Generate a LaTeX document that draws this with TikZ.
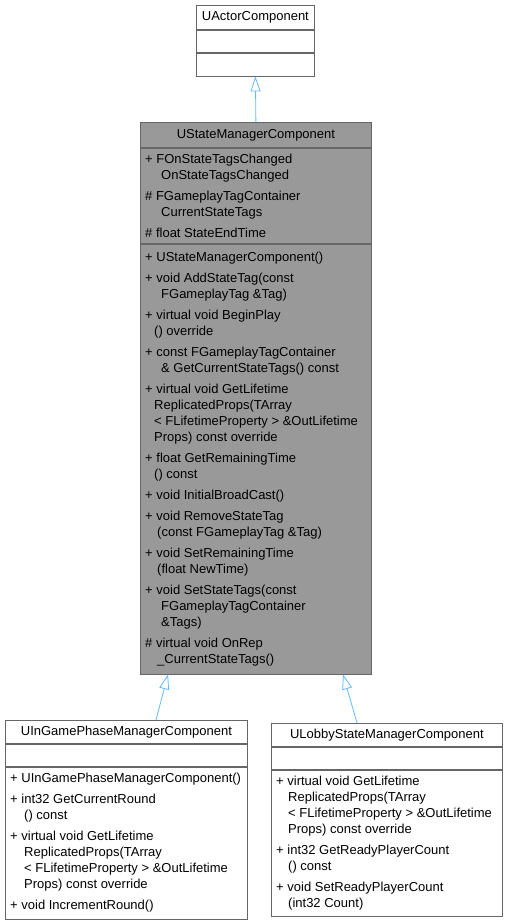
\documentclass[tikz,border=0pt]{standalone}
\usepackage{fontspec}
\setmainfont{Liberation Sans}
\usetikzlibrary{positioning,arrows.meta}
\definecolor{boxline}{HTML}{666666}
\definecolor{boxfill}{HTML}{999999}
\definecolor{inheritline}{HTML}{63B8FF}
\tikzset{
  part/.style n args={2}{draw=boxline, line width=0.8pt, fill=white, inner sep=0pt,
    minimum width=#1, minimum height=#2},
  current/.style={fill=boxfill},
  members/.style={anchor=west, inner sep=0pt, align=left},
  inherit/.style={draw=inheritline, line width=0.8pt,
    -{Triangle[open, length=15pt, width=10pt]}},
}
\begin{document}
\begin{tikzpicture}[x=1pt, y=-1pt, font=\fontsize{13}{16}\selectfont]
  \useasboundingbox (0,0) rectangle (507,923);
  % Top: base class
  \node[part={118pt}{24pt}, anchor=north west] (actor) at (196,5) {UActorComponent};
  \node[part={118pt}{22pt}, below=0pt of actor] (actor-a) {};
  \node[part={118pt}{23pt}, below=0pt of actor-a] (actor-m) {};
  % Middle: the state manager itself
  \node[part={231pt}{25pt}, current, anchor=north west] (sm) at (140,122) {UStateManagerComponent};
  \node[part={231pt}{95pt}, current, below=0pt of sm] (sm-a) {};
  \node[part={231pt}{430pt}, current, below=0pt of sm-a] (sm-m) {};
  \node[members] (sm-a-txt) at ([xshift=5pt]sm-a.west) {%
    + FOnStateTagsChanged\\
    \hspace*{16pt}OnStateTagsChanged\\[5pt]
    \# FGameplayTagContainer\\
    \hspace*{16pt}CurrentStateTags\\[5pt]
    \# float StateEndTime};
  \node[members] (sm-m-txt) at ([xshift=5pt]sm-m.west) {%
    + UStateManagerComponent()\\[5pt]
    + void AddStateTag(const\\
    \hspace*{16pt}FGameplayTag \&Tag)\\[5pt]
    + virtual void BeginPlay\\
    \hspace*{9pt}() override\\[5pt]
    + const FGameplayTagContainer\\
    \hspace*{16pt}\& GetCurrentStateTags() const\\[5pt]
    + virtual void GetLifetime\\
    \hspace*{9pt}ReplicatedProps(TArray\\
    \hspace*{9pt}< FLifetimeProperty > \&OutLifetime\\
    \hspace*{9pt}Props) const override\\[5pt]
    + float GetRemainingTime\\
    \hspace*{9pt}() const\\[5pt]
    + void InitialBroadCast()\\[5pt]
    + void RemoveStateTag\\
    \hspace*{12pt}(const FGameplayTag \&Tag)\\[5pt]
    + void SetRemainingTime\\
    \hspace*{12pt}(float NewTime)\\[5pt]
    + void SetStateTags(const\\
    \hspace*{16pt}FGameplayTagContainer\\
    \hspace*{16pt}\&Tags)\\[5pt]
    \# virtual void OnRep\\
    \hspace*{12pt}\_CurrentStateTags()};
  % Bottom left: in-game phase manager
  \node[part={242pt}{23pt}, anchor=north west] (gp) at (5,720) {UInGamePhaseManagerComponent};
  \node[part={242pt}{22pt}, below=0pt of gp] (gp-a) {};
  \node[part={242pt}{152pt}, below=0pt of gp-a] (gp-m) {};
  \node[members] (gp-m-txt) at ([xshift=5pt]gp-m.west) {%
    + UInGamePhaseManagerComponent()\\[5pt]
    + int32 GetCurrentRound\\
    \hspace*{14pt}() const\\[5pt]
    + virtual void GetLifetime\\
    \hspace*{14pt}ReplicatedProps(TArray\\
    \hspace*{14pt}< FLifetimeProperty > \&OutLifetime\\
    \hspace*{14pt}Props) const override\\[5pt]
    + void IncrementRound()};
  % Bottom right: lobby state manager
  \node[part={231pt}{23pt}, anchor=north west] (lobby) at (271,723) {ULobbyStateManagerComponent};
  \node[part={231pt}{22pt}, below=0pt of lobby] (lobby-a) {};
  \node[part={231pt}{146pt}, below=0pt of lobby-a] (lobby-m) {};
  \node[members] (lobby-m-txt) at ([xshift=5pt]lobby-m.west) {%
    + virtual void GetLifetime\\
    \hspace*{12pt}ReplicatedProps(TArray\\
    \hspace*{12pt}< FLifetimeProperty > \&OutLifetime\\
    \hspace*{12pt}Props) const override\\[5pt]
    + int32 GetReadyPlayerCount\\
    \hspace*{12pt}() const\\[5pt]
    + void SetReadyPlayerCount\\
    \hspace*{12pt}(int32 Count)};
  % Inheritance arrows
  \draw[inherit] (sm.north) -- (actor-m.south);
  \draw[inherit] ([xshift=151pt]gp.north west) -- ([xshift=28pt]sm-m.south west);
  \draw[inherit] ([xshift=86pt]lobby.north west) -- ([xshift=203pt]sm-m.south west);
\end{tikzpicture}
\end{document}
